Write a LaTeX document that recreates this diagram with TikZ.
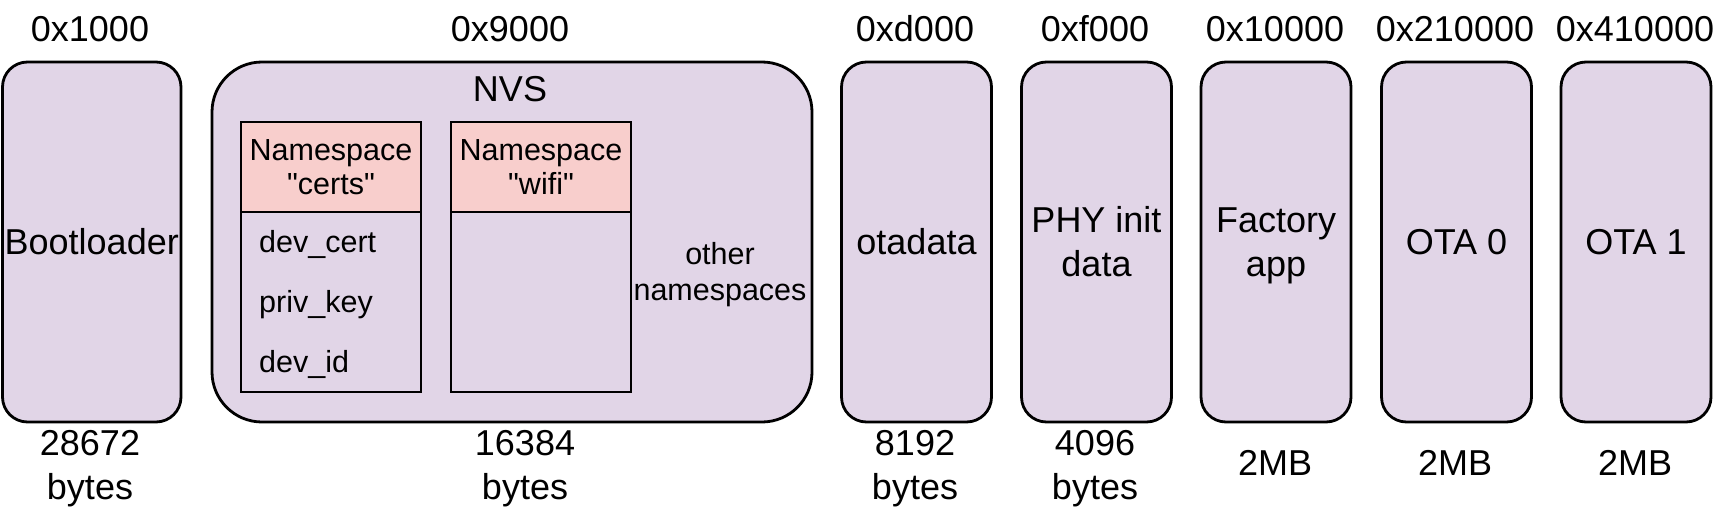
\documentclass[tikz,border=0pt]{standalone}
\usepackage{fontspec}
\setmainfont{Liberation Sans}
\definecolor{lav}{HTML}{E1D5E7}
\definecolor{pinkh}{HTML}{F8CECC}
\begin{document}
\begin{tikzpicture}[x=1pt,y=-1pt,
  big/.style={font=\fontsize{36}{44}\selectfont},
  small/.style={font=\fontsize{30.5}{34}\selectfont},
  part/.style={draw, line width=2.8pt, fill=lav, rounded corners=25pt, minimum height=360pt, inner sep=0pt, align=center, big},
  nsbox/.style={draw, line width=2.8pt, minimum width=180pt, inner sep=0pt, align=center, small},
  lbl/.style={inner sep=0pt, align=center, big},
  key/.style={inner sep=0pt, anchor=base west, small}]
\useasboundingbox (0,0) rectangle (1728,513);

% partitions
\node[part, minimum width=178.5pt] (boot) at (91.75,242) {Bootloader};
\node[part, minimum width=600pt, rounded corners=50pt] (nvs) at (512,242) {};
\node[part, minimum width=150pt] (ota) at (916.5,242) {otadata};
\node[part, minimum width=150pt] (phy) at (1096.5,242) {PHY init\\data};
\node[part, minimum width=150pt, text depth=0pt] (fac) at (1276,242) {Factory\\app};
\node[part, minimum width=150pt] (ota0) at (1456.5,242) {OTA 0};
\node[part, minimum width=150pt] (ota1) at (1636,242) {OTA 1};

% NVS contents
\node[lbl, anchor=base] (nvsT) at (510,102) {NVS};
\node[nsbox, fill=lav, minimum height=180pt] (certsB) at (331,302) {};
\node[nsbox, fill=pinkh, minimum height=90pt] (certsH) at (331,167) {Namespace\\\textquotedbl certs\textquotedbl};
\node[key] (k1) at (259,252) {dev\_cert};
\node[key] (k2) at (259,312) {priv\_key};
\node[key] (k3) at (259,372) {dev\_id};
\node[nsbox, fill=lav, minimum height=180pt] (wifiB) at (541,302) {};
\node[nsbox, fill=pinkh, minimum height=90pt] (wifiH) at (541,167) {Namespace\\\textquotedbl wifi\textquotedbl};
\node[inner sep=0pt, align=center, font=\fontsize{30.5}{36}\selectfont] (other) at (720,275) {other\\namespaces};

% addresses
\node[lbl, anchor=base] (a1) at (90,42) {0x1000};
\node[lbl, anchor=base] (a2) at (510,42) {0x9000};
\node[lbl, anchor=base] (a3) at (915,42) {0xd000};
\node[lbl, anchor=base] (a4) at (1095,42) {0xf000};
\node[lbl, anchor=base] (a5) at (1275,42) {0x10000};
\node[lbl, anchor=base] (a6) at (1455,42) {0x210000};
\node[lbl, anchor=base] (a7) at (1635,42) {0x410000};

% sizes
\node[lbl, anchor=base] (s1) at (90,499) {28672\\bytes};
\node[lbl, anchor=base] (s2) at (525,499) {16384\\bytes};
\node[lbl, anchor=base] (s3) at (915,499) {8192\\bytes};
\node[lbl, anchor=base] (s4) at (1095,499) {4096\\bytes};
\node[lbl, anchor=base] (s5) at (1275,475) {2MB};
\node[lbl, anchor=base] (s6) at (1455,475) {2MB};
\node[lbl, anchor=base] (s7) at (1635,475) {2MB};
\end{tikzpicture}
\end{document}
